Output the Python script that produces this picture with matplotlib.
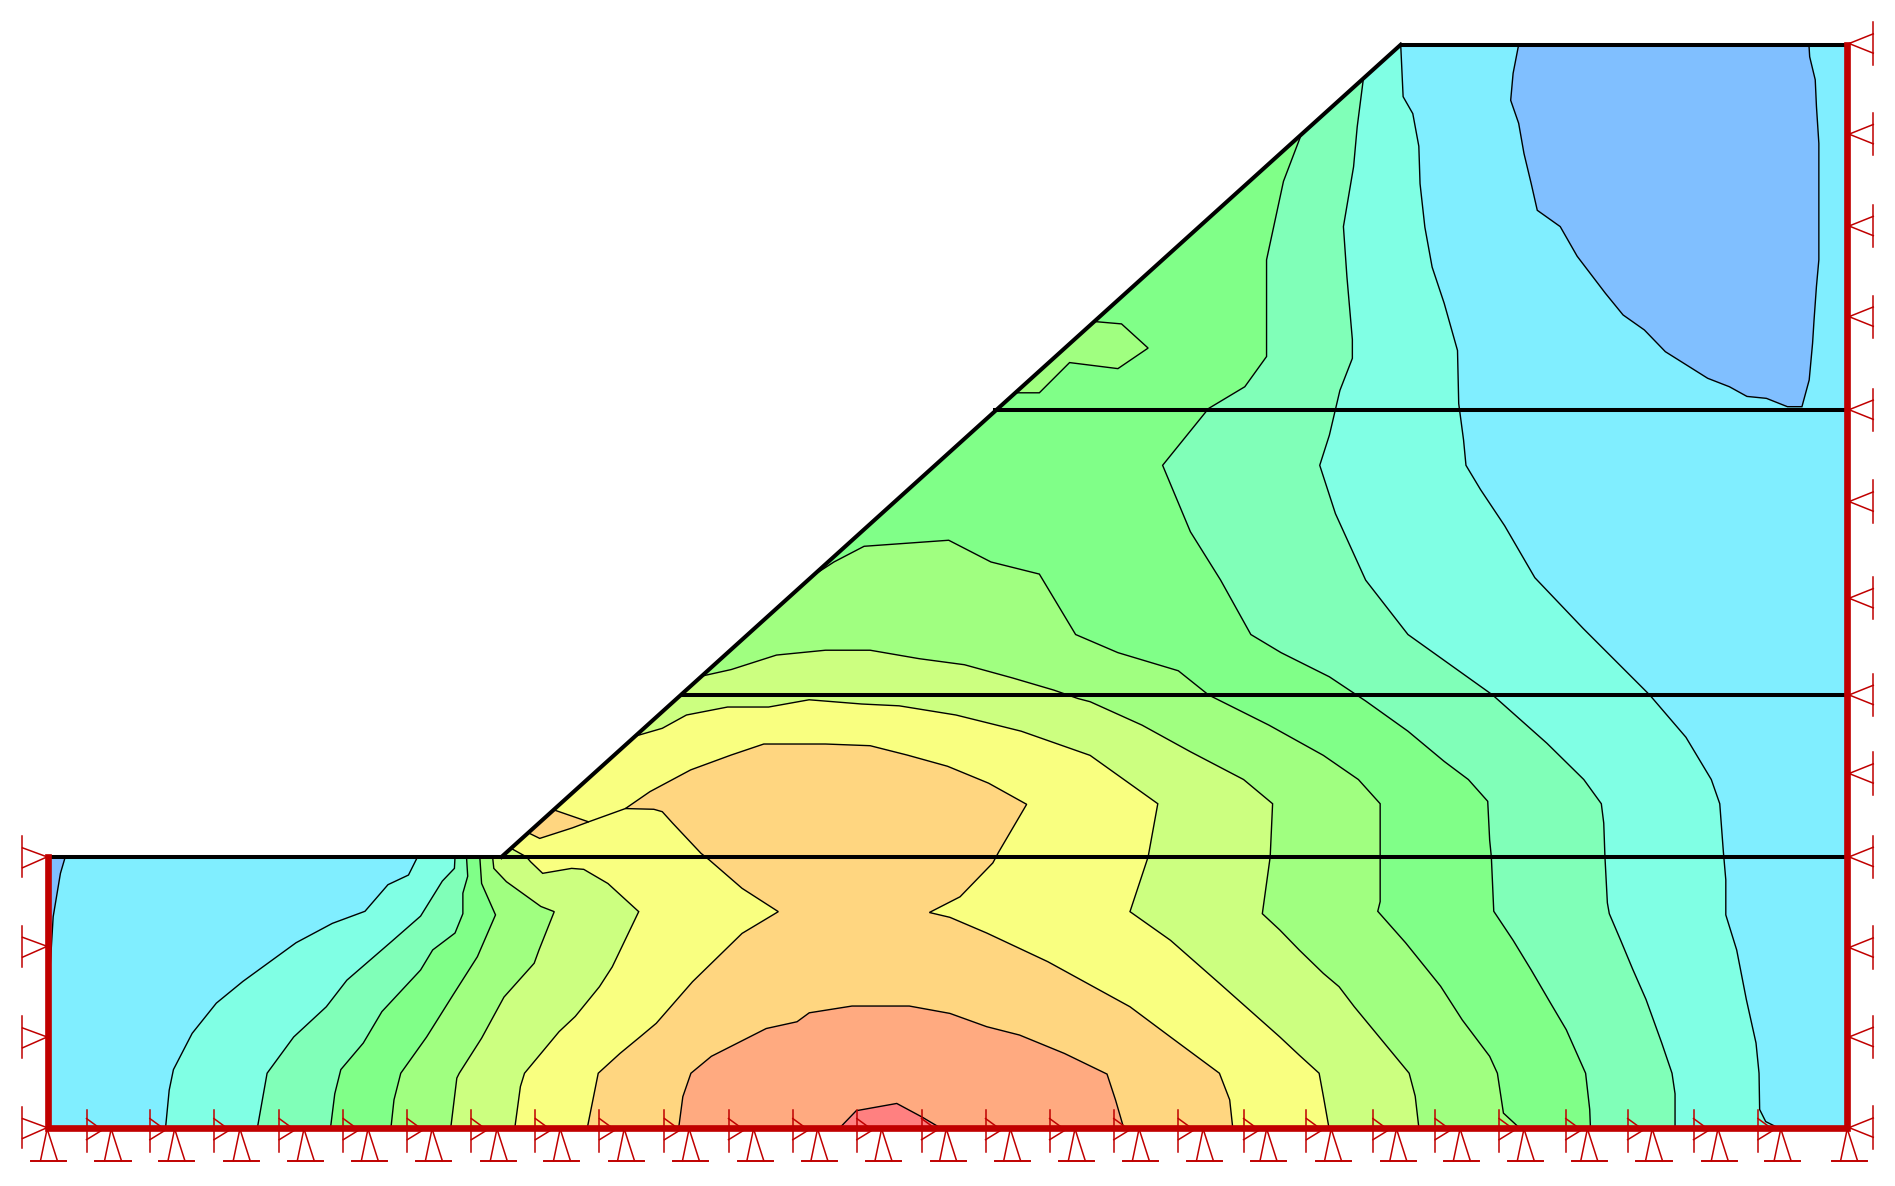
import matplotlib
matplotlib.use('Agg')
import matplotlib.pyplot as plt
from matplotlib.patches import Polygon

# slope model outline (picture units, y down)
outline = [(40,709),(415,709),(1159,37),(1528,37),(1528,933),(40,933)]
toe = (415,709)
layer_lines = [(40,1528,709),(563,1528,575),(822,1528,339),(1159,1528,37)]
slope_line = [(415,709),(1159,37)]

band_colors = ['#80BFFF','#80EEFF','#80FFE4','#80FFB8','#80FF88','#A0FF80',
               '#CCFF80','#F9FF80','#FFD680','#FFAA80','#FF8080']

# contour lines
low_left = [(40.5,709),(54,709),(50,722.6),(44,758.5),(41.5,800),(40.5,800)]
low_right = [(1256.6,37),(1252,60.7),(1250,83),(1256.6,102),(1261,127),(1267,152),(1272,174),
             (1291,187.5),(1305,212),(1328.4,242.7),(1343,260.6),(1360.6,273),(1378,291),
             (1413,313),(1431,320),(1445.5,328),(1461.6,329.6),(1479,336.5),(1491,336.5),
             (1497,314.4),(1499.8,284),(1501,265),(1503,237),(1505,215),(1505,118.6),
             (1503,88),(1502,66),(1497.4,47),(1496.8,37)]

c2_left = [(137,933),(140,902),(143.5,885),(159,855),(179,830),(201,812),(245,780),(275,764),
           (302,754),(321,732),(338,724),(345.5,709)]
c2_right = [(1159,37),(1161,80),(1169,94),(1174,121),(1175,152),(1179,188),(1185,221),(1195,251),
            (1206,290),(1207,334),(1211,364),(1213,385),(1225,405),(1245,435),(1270,478),(1310,520),
            (1365,575),(1395,610),(1416,645),(1423,665),(1426,705),(1428,728),(1428,757),(1437,786),
            (1445,827),(1453,863),(1455.5,888),(1456,918),(1461,928),(1471,933)]

c3_left = [(213,933),(221,888),(243,858),(270,833),(287,811),(324,779),(348,758),(366,729),
           (376,718.5),(376.5,709)]
c3_right = [(1128,66),(1123,105),(1120,138),(1111.6,187.5),(1114.5,229),(1119,281),(1119,296.5),
            (1108.7,323),(1100,360),(1092,385),(1105,425),(1130,480),(1165,525),(1235,575),(1280,615),
            (1310.5,645),(1325,665),(1327,681),(1328,709),(1330,747),(1331.6,756),(1341,778),(1351,802),
            (1362,827),(1375,863),(1383.5,888),(1386,905),(1386,933)]

c4_left = [(273.5,933),(277,905),(282,885),(300.6,863),(316,837),(348,802.6),(358,786),(376.5,772),
           (383,756),(383,739),(387,725),(386,709)]
c4_right = [(1078,108),(1062,150),(1048,215),(1048,295),(1030,320),(1000,338),(962,385),(985,440),
            (1010,480),(1035,525),(1060,540),(1100,560),(1130,580),(1165,605),(1195,630),(1215,645),
            (1231,663),(1232.6,695),(1234,709),(1236,754),(1252,778),(1267,802.6),(1283,830),(1296,852),
            (1312,888),(1315.4,918),(1316,933)]

c5_left = [(323.5,933),(326,910),(331.6,888),(353,858),(375,823),(395,791.6),(410,757),(398.5,731),(397,709)]
c5_right = [(670,478),(690,465),(715,452),(785,447),(820,465),(860,475),(890,525),(925,540),(975,555),
            (1000,575),(1050,600),(1095,625),(1124,645),(1142,665),(1142,746),(1140,754),(1163,780),
            (1192,816),(1210,844),(1232.6,874),(1239,888),(1244,921),(1257,933)]
c5_island = [(905,266),(928,268),(950,288),(925,305),(885,300),(860,325),(840,325)]

c6_left = [(373,933),(378,892),(380,888),(398.5,859),(417,825),(442,797),(446,786),(458.6,754.3),
           (447.5,750),(419,729.5),(408.6,718.5),(407.6,709)]
c6_right = [(578,560),(605,554),(642.5,542),(683,538),(720,538),(760.6,545),(798,550),(838,561),(872,571),
            (892,578),(902,580.6),(945,600),(985,622),(1029,645),(1053,665),(1051,709),(1044.5,756),
            (1059,769.5),(1075,786),(1095,805.4),(1108,816.4),(1120.6,833),(1166,888),(1171,907),(1174,933)]

c7_left = [(426,933),(430.6,899),(434,888),(462.6,853.6),(476,841),(496,816.4),(506.6,800),(528.5,754.3),
           (503,731),(483,719.3),(473,718.5),(449,722.6),(439,713),(435.6,709),(423,702)]
c7_right = [(526,609),(548,602.6),(568,591.6),(602,585),(636,585),(669.5,579),(713,582.5),(744,584),
            (791,591.6),(845,605),(902,625),(930,645),(958,665),(950,709),(935,754.3),(968.5,778),
            (1009,813.6),(1059,858),(1075,873),(1091.5,888),(1095,907),(1099.6,933)]

c8_main = [(486,933),(495,888),(513,871.6),(529.5,858),(543,846.7),(573,812.3),(614,772.3),(644,754.3),
           (614,735),(587,711.6),(580,706),(556.5,681),(548,671.6),(541,669.6),(517.5,669),(537.8,655),
           (571.5,637),(605,624.7),(632,615.6),(683,615.6),(720,617),(750.5,624.7),(784,634),(818,648),
           (849.5,665.5),(826.5,704.7),(821.5,714),(794.4,742),(769,755),(786,759),(816.5,772),(867,795.7),
           (935,833),(968.5,858),(1009,888),(1017.5,910),(1020,933)]
c8_patch = [(458,670),(487,680),(473.6,685),(446.6,693.7),(438,689.5)]
c8_neck = [(487,680),(517.5,669)]

c9_line = [(561.6,933),(565,907.4),(571.7,888),(588.6,874),(634,851),(659.5,845.4),(669.6,838),(705,832.4),
           (752.4,832.4),(786,838.5),(816.5,849.5),(843.6,856.4),(880.7,871.6),(916,888.7),(923,910),(929.7,933)]
c10_line = [(695,933),(708.5,919),(742,913),(762.5,924),(777.7,933)]

# supports
left_support_y = [709,783,858,933]
right_support_y = [36,111,187,262,339,415,495,575,640,709,784,858,933]
bottom_bar_x = [71.6,124,177,231,284,337,390,443,496,549.8,602.8,656,709,762.5,815.5,868.5,921.6,975,1029,
                1081,1136,1187.5,1240.4,1295.6,1346.8,1401.3,1454.6]
bottom_base_x = [40.5,93.5,146,200,253,306,359,412.7,465,518,571.7,625,678,731,784.5,837.5,891,944,997,1049.6,
                 1103,1157,1209.6,1262.5,1315,1368.6,1423,1475,1530]

red = '#C00000'

fig = plt.figure(figsize=(18.95,11.86), dpi=100)
ax = fig.add_axes([0,0,1,1])
ax.set_xlim(0,1568)
ax.set_ylim(981.3,0)
ax.axis('off')
domain = Polygon(outline, closed=True, transform=ax.transData)


def fill_band(points, color, z):
    p = Polygon(points, closed=True, facecolor=color, edgecolor='none', zorder=z)
    ax.add_patch(p)
    p.set_clip_path(domain)


def contour(points):
    line, = ax.plot([p[0] for p in points], [p[1] for p in points], color='black', lw=1.0, zorder=12,
                    solid_joinstyle='miter')
    line.set_clip_path(domain)


fill_band(outline, band_colors[1], 1)
fill_band(low_left, band_colors[0], 2)
fill_band(low_right, band_colors[0], 2)
fill_band(c2_left+[toe]+c2_right, band_colors[2], 3)
fill_band(c3_left+[toe]+c3_right, band_colors[3], 4)
fill_band(c4_left+[toe]+c4_right, band_colors[4], 5)
fill_band(c5_left+[toe]+c5_right, band_colors[5], 6)
fill_band(c5_island, band_colors[5], 6)
fill_band(c6_left+[toe]+c6_right, band_colors[6], 7)
fill_band(c7_left+c7_right, band_colors[7], 8)
fill_band(c8_main, band_colors[8], 9)
fill_band(c8_patch, band_colors[8], 9)
fill_band(c9_line, band_colors[9], 10)
fill_band(c10_line, band_colors[10], 11)

for line in [low_left[1:], low_right, c2_left, c2_right, c3_left, c3_right, c4_left, c4_right,
             c5_left, c5_right, c5_island, c6_left, c6_right, c7_left, c7_right, c8_main,
             c8_patch, c8_neck, c9_line, c10_line]:
    contour(line)

# layer boundaries
for x0, x1, y in layer_lines:
    ax.plot([x0,x1], [y,y], color='black', lw=2.9, zorder=14, solid_capstyle='butt')
ax.plot([slope_line[0][0],slope_line[1][0]], [slope_line[0][1],slope_line[1][1]], color='black', lw=2.9, zorder=14)

# restrained boundary
ax.plot([40,40,1528,1528], [709,933,933,37], color=red, lw=4.8, zorder=15, solid_joinstyle='miter')

# pins on the walls
for y in left_support_y:
    ax.plot([18.6,18.6], [y-17,y+17], color=red, lw=1.1, zorder=16)
    ax.plot([18.6,39,18.6], [y-7.5,y,y+9], color=red, lw=1.1, zorder=16)
for y in right_support_y:
    ax.plot([1550,1550], [y-17.5,y+17.5], color=red, lw=1.1, zorder=16)
    ax.plot([1550,1530,1550], [y-8,y,y+8], color=red, lw=1.1, zorder=16)

# pins along the base
for x in bottom_bar_x:
    ax.plot([x,x], [918.4,952.9], color=red, lw=1.1, zorder=16)
    ax.plot([x,x+13,x], [925.5,935,943], color=red, lw=1.1, zorder=16)
for x in bottom_base_x:
    ax.plot([x-7,x-1.5,x+7], [960.4,934,960.4], color=red, lw=1.1, zorder=16)
    ax.plot([x-14.5,x+14.5], [960.4,960.4], color=red, lw=1.4, zorder=16)

fig.savefig('out.png', dpi=100, facecolor='white')
